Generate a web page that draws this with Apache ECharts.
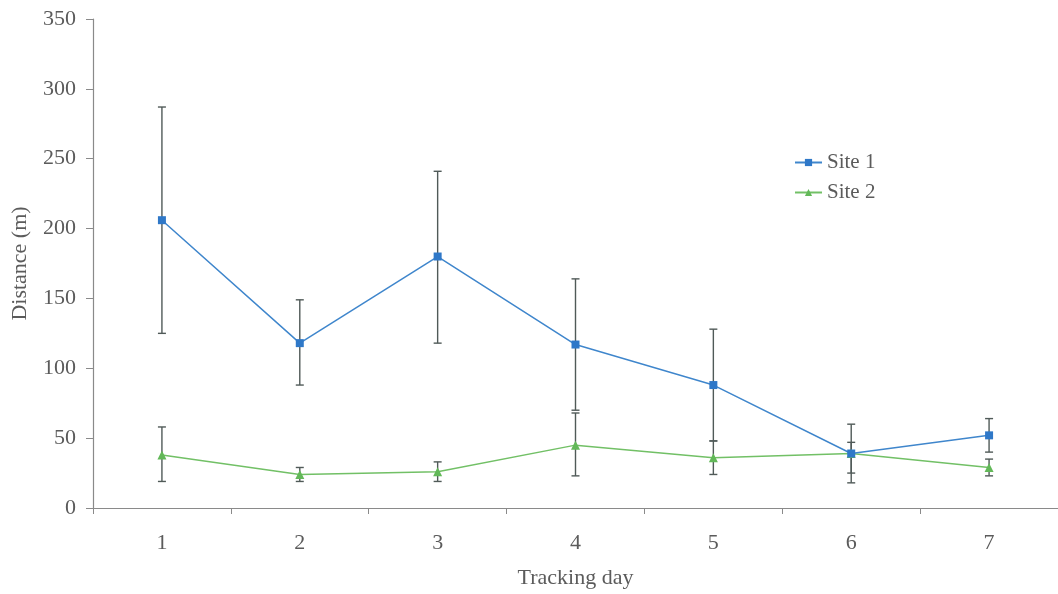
<!DOCTYPE html>
<html>
<head>
<meta charset="utf-8">
<script src="https://cdn.jsdelivr.net/npm/echarts@6/dist/echarts.min.js"></script>
<style>
  html, body { margin: 0; padding: 0; background: #fff; }
  #chart { width: 1058px; height: 594px; }
</style>
</head>
<body>
<div id="chart"></div>
<script>
// Tracking days
const days = ['1', '2', '3', '4', '5', '6', '7'];

// Mean distance per day (m)
const site1 = [206, 118, 180, 117, 88, 39, 52];
const site2 = [38, 24, 26, 45, 36, 39, 29];

// Error bar extents (m)
const site1Low  = [125, 88, 118, 70, 48, 18, 40];
const site1High = [287, 149, 241, 164, 128, 60, 64];
const site2Low  = [19, 19, 19, 23, 24, 25, 23];
const site2High = [58, 29, 33, 68, 48, 47, 35];

const textColor = '#5b5b5b';
const axisColor = '#8a8a8a';
const fontFamily = '"Liberation Serif", "Times New Roman", serif';

function errorRows(low, high) {
  return days.map((d, i) => [i, low[i], high[i]]);
}

function renderErrorBar(params, api) {
  const x = api.value(0);
  const lo = api.coord([x, api.value(1)]);
  const hi = api.coord([x, api.value(2)]);
  const half = 4;
  const style = { stroke: '#505a58', lineWidth: 1.4 };
  return {
    type: 'group',
    children: [
      { type: 'line', shape: { x1: lo[0], y1: lo[1], x2: hi[0], y2: hi[1] }, style },
      { type: 'line', shape: { x1: lo[0] - half, y1: lo[1], x2: lo[0] + half, y2: lo[1] }, style },
      { type: 'line', shape: { x1: hi[0] - half, y1: hi[1], x2: hi[0] + half, y2: hi[1] }, style }
    ]
  };
}

const chart = echarts.init(document.getElementById('chart'));
chart.setOption({
  animation: false,
  textStyle: { fontFamily },
  grid: { left: 93, top: 19, width: 969, bottom: 86 },
  legend: {
    orient: 'vertical',
    left: 789,
    top: 147,
    itemWidth: 27,
    itemHeight: 9,
    itemGap: 9,
    textStyle: { color: textColor, fontSize: 21, fontFamily },
    data: ['Site 1', 'Site 2']
  },
  xAxis: {
    type: 'category',
    data: days,
    boundaryGap: true,
    name: 'Tracking day',
    nameLocation: 'middle',
    nameGap: 59,
    nameTextStyle: { color: textColor, fontSize: 22, fontFamily },
    axisLine: { lineStyle: { color: axisColor, width: 1.2 } },
    axisTick: { show: true, length: 6, inside: false, lineStyle: { color: axisColor } },
    axisLabel: { color: textColor, fontSize: 22, margin: 24, fontFamily },
    splitLine: { show: false }
  },
  yAxis: {
    type: 'value',
    min: 0,
    max: 350,
    interval: 50,
    name: 'Distance (m)',
    nameLocation: 'middle',
    nameGap: 62,
    nameTextStyle: { color: textColor, fontSize: 22, fontFamily },
    axisLine: { show: true, lineStyle: { color: axisColor, width: 1.2 } },
    axisTick: { show: true, length: 7, lineStyle: { color: axisColor } },
    axisLabel: { color: textColor, fontSize: 22, margin: 17, fontFamily },
    splitLine: { show: false }
  },
  series: [
    {
      name: 'Site 1 error',
      type: 'custom',
      renderItem: renderErrorBar,
      data: errorRows(site1Low, site1High),
      encode: { x: 0, y: [1, 2] },
      z: 1,
      silent: true
    },
    {
      name: 'Site 2 error',
      type: 'custom',
      renderItem: renderErrorBar,
      data: errorRows(site2Low, site2High),
      encode: { x: 0, y: [1, 2] },
      z: 1,
      silent: true
    },
    {
      name: 'Site 1',
      type: 'line',
      data: site1,
      symbol: 'rect',
      symbolSize: 8,
      showAllSymbol: true,
      lineStyle: { color: '#3f86cc', width: 1.5 },
      itemStyle: { color: '#2f78c8' },
      z: 3
    },
    {
      name: 'Site 2',
      type: 'line',
      data: site2,
      symbol: 'triangle',
      symbolSize: 9,
      showAllSymbol: true,
      lineStyle: { color: '#72c066', width: 1.5 },
      itemStyle: { color: '#62b858' },
      z: 2
    }
  ]
});
</script>
</body>
</html>
